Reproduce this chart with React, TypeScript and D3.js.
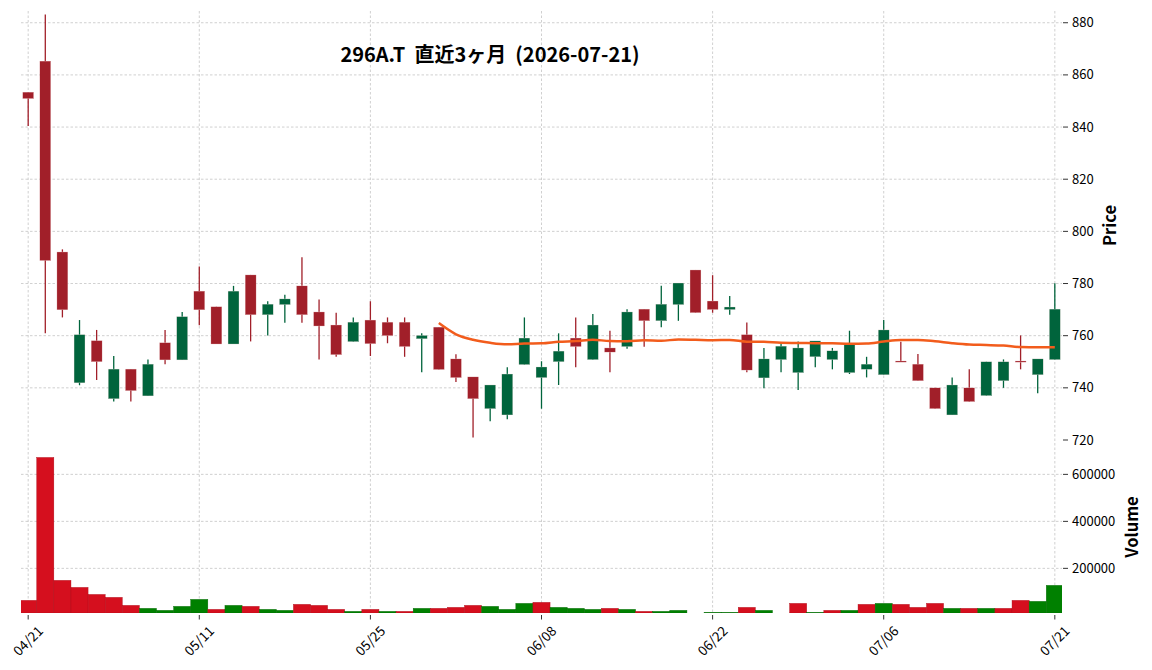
import * as d3 from "d3";

const dates = [
  "04/21", "04/22", "04/23", "04/24", "04/27", "04/28", "04/30", "05/01", "05/07", "05/08",
  "05/11", "05/12", "05/13", "05/14", "05/15", "05/18", "05/19", "05/20", "05/21", "05/22",
  "05/25", "05/26", "05/27", "05/28", "05/29", "06/01", "06/02", "06/03", "06/04", "06/05",
  "06/08", "06/09", "06/10", "06/11", "06/12", "06/15", "06/16", "06/17", "06/18", "06/19",
  "06/22", "06/23", "06/24", "06/25", "06/26", "06/29", "06/30", "07/01", "07/02", "07/03",
  "07/06", "07/07", "07/08", "07/09", "07/10", "07/13", "07/14", "07/15", "07/16", "07/17",
  "07/21",
];

const opens = [
  853.4, 865.3, 792.1, 741.9, 758.1, 735.8, 747.2, 736.9, 757.3, 750.7,
  777.1, 771.1, 756.8, 783.3, 768.0, 771.9, 779.1, 769.1, 764.1, 757.7,
  766.0, 765.2, 765.2, 758.8, 763.3, 751.1, 744.2, 732.0, 729.6, 748.9,
  743.9, 750.0, 759.1, 750.8, 755.3, 755.8, 770.2, 765.7, 771.9, 785.2,
  773.3, 770.0, 760.4, 743.8, 750.8, 745.8, 751.9, 750.8, 745.8, 747.1,
  745.0, 750.3, 749.1, 740.0, 729.6, 740.0, 737.0, 742.7, 750.3, 745.0,
  750.8,
];
const highs = [
  853.4, 883.2, 793.1, 766.0, 762.2, 752.2, 747.2, 750.9, 762.2, 769.1,
  786.5, 771.1, 779.1, 783.3, 773.2, 775.7, 790.1, 773.9, 768.8, 767.0,
  773.2, 767.0, 767.0, 760.9, 763.3, 752.9, 744.2, 741.1, 747.9, 767.0,
  750.2, 760.9, 767.0, 768.3, 761.9, 770.1, 770.2, 779.1, 780.2, 785.2,
  783.2, 775.2, 765.1, 755.3, 757.5, 757.8, 758.0, 755.3, 761.9, 751.9,
  766.0, 757.7, 753.0, 740.0, 744.0, 747.1, 750.0, 750.9, 760.1, 751.1,
  780.1,
];
const lows = [
  840.4, 760.9, 767.0, 741.0, 743.0, 734.8, 734.8, 736.9, 749.0, 750.7,
  764.0, 756.8, 756.8, 757.8, 760.1, 765.0, 765.0, 750.9, 751.9, 757.7,
  752.2, 757.1, 751.9, 746.0, 747.0, 742.2, 721.0, 727.2, 728.0, 748.9,
  732.0, 741.1, 747.9, 750.8, 746.0, 755.0, 755.8, 763.2, 765.7, 768.8,
  768.8, 768.0, 746.0, 739.8, 746.0, 739.2, 747.9, 747.1, 745.3, 744.0,
  745.0, 750.0, 742.7, 732.0, 729.6, 734.7, 737.0, 740.0, 747.1, 737.9,
  750.8,
];
const closes = [
  850.9, 788.8, 769.9, 760.4, 750.0, 747.2, 738.9, 749.1, 750.7, 767.3,
  769.9, 756.8, 777.1, 768.0, 772.1, 774.1, 768.0, 763.7, 752.7, 765.2,
  756.9, 760.0, 755.8, 760.1, 747.0, 743.9, 735.8, 741.1, 745.3, 759.1,
  748.0, 754.1, 755.8, 764.1, 753.7, 769.1, 765.7, 772.1, 780.2, 768.8,
  770.0, 771.0, 746.8, 751.1, 756.0, 755.3, 758.0, 754.2, 756.9, 749.1,
  762.2, 750.0, 742.7, 732.0, 741.1, 734.7, 750.0, 750.0, 750.0, 751.1,
  770.2,
];
const volumes = [
  63800, 672000, 149000, 119000, 89000, 76600, 42500, 29800, 21300, 38300,
  68000, 25500, 42500, 38300, 25500, 21300, 46800, 42500, 25500, 17000,
  25500, 17000, 17000, 29800, 29800, 34000, 42500, 38300, 25500, 51000,
  55300, 34000, 29800, 25500, 29800, 25500, 17000, 17000, 21300, 8000,
  12800, 12800, 34000, 21300, 8000, 51000, 12800, 21300, 21300, 46800,
  51000, 46800, 34000, 51000, 29800, 29800, 29800, 29800, 63800, 59600,
  127700,
];

const priceTicks = [720, 740, 760, 780, 800, 820, 840, 860, 880];
const volumeTicks = [200000, 400000, 600000];
const tickEvery = 10;
const maWindow = 25;
const title = "296A.T  直近3ヶ月  (2026-07-21)";

const FONT = "'Noto Sans CJK JP', 'Noto Sans', sans-serif";
const UP = "#00643c";
const DOWN = "#a11f29";
const VUP = "#008000";
const VDOWN = "#d50f1e";

export default function App() {
  const left = 21;
  const right = 1062;
  const x = d3.scaleLinear().domain([-0.42, dates.length - 1 + 0.42]).range([left, right]);
  const step = x(1) - x(0);
  const yP = d3.scaleLinear().domain([720, 884.5]).range([440, 11]);
  const yV = d3.scaleLinear().domain([10000, 742000]).range([613, 441]);

  const ma = closes.map((_, i) =>
    i < maWindow - 1 ? null : d3.mean(closes.slice(i - maWindow + 1, i + 1)) as number
  );
  const maLine = d3
    .line<number | null>()
    .defined((d) => d != null)
    .x((_, i) => x(i))
    .y((d) => yP(d as number))
    .curve(d3.curveMonotoneX)(ma);

  const tickIdx = d3.range(0, dates.length, tickEvery);
  const grid = { stroke: "#c4c4c4", strokeWidth: 0.8, strokeDasharray: "2.5,2" };

  return (
    <svg
      width={1152}
      height={670}
      style={{ position: "absolute", left: 0, top: 0, background: "#fff" }}
      fontFamily={FONT}
    >
      <defs>
        <clipPath id="vclip">
          <rect x={left} y={441} width={right - left} height={172} />
        </clipPath>
      </defs>

      {/* grid */}
      {tickIdx.map((i) => (
        <line key={"vg" + i} x1={x(i)} x2={x(i)} y1={11} y2={613} {...grid} />
      ))}
      {priceTicks
        .filter((t) => t > 720)
        .map((t) => (
          <line key={"pg" + t} x1={left} x2={right} y1={yP(t)} y2={yP(t)} {...grid} />
        ))}
      {volumeTicks.map((t) => (
        <line key={"vgh" + t} x1={left} x2={right} y1={yV(t)} y2={yV(t)} {...grid} />
      ))}

      {/* volume */}
      <g clipPath="url(#vclip)">
        {volumes.map((v, i) => {
          const up = i === 0 ? closes[0] > opens[0] : closes[i] > closes[i - 1];
          const top = yV(v);
          const h = Math.max(0, yV.range()[0] - top);
          const c = up ? VUP : VDOWN;
          return (
            <rect
              key={"v" + i}
              x={x(i) - step / 2}
              y={top}
              width={step}
              height={h}
              fill={c}
              stroke={d3.color(c)!.darker(0.6).toString()}
              strokeWidth={0.4}
            />
          );
        })}
      </g>

      {/* candles */}
      {closes.map((c, i) => {
        const o = opens[i];
        const col = c > o ? UP : DOWN;
        const bw = step * 0.64;
        const yt = yP(Math.max(o, c));
        const yb = yP(Math.min(o, c));
        return (
          <g key={"c" + i}>
            <line x1={x(i)} x2={x(i)} y1={yP(highs[i])} y2={yP(lows[i])} stroke={col} strokeWidth={1.3} />
            <rect
              x={x(i) - bw / 2}
              y={yt}
              width={bw}
              height={Math.max(1.2, yb - yt)}
              fill={col}
              stroke="#f3dede"
              strokeWidth={0.3}
            />
          </g>
        );
      })}

      {/* moving average */}
      <path d={maLine ?? ""} fill="none" stroke="#f25c1c" strokeWidth={2.5} />

      {/* price axis */}
      {priceTicks.map((t) => (
        <g key={"pt" + t} transform={`translate(0,${yP(t)})`}>
          <line x1={1063} x2={1068} stroke="#333" strokeWidth={1} />
          <text x={1072} dy="0.35em" fontSize={13} fill="#000">
            {t}
          </text>
        </g>
      ))}
      <text
        transform={`translate(1116,${(11 + 440) / 2}) rotate(-90)`}
        textAnchor="middle"
        fontSize={16.5}
        fontWeight="bold"
      >
        Price
      </text>

      {/* volume axis */}
      {volumeTicks.map((t) => (
        <g key={"vt" + t} transform={`translate(0,${yV(t)})`}>
          <line x1={1063} x2={1068} stroke="#333" strokeWidth={1} />
          <text x={1072} dy="0.35em" fontSize={13} fill="#000">
            {t}
          </text>
        </g>
      ))}
      <text
        transform={`translate(1138,${(441 + 613) / 2}) rotate(-90)`}
        textAnchor="middle"
        fontSize={16.5}
        fontWeight="bold"
      >
        Volume
      </text>

      {/* x axis */}
      {tickIdx.map((i) => (
        <g key={"xt" + i}>
          <line x1={x(i)} x2={x(i)} y1={615} y2={619.5} stroke="#333" strokeWidth={1} />
          <text
            transform={`translate(${x(i)},641) rotate(-45)`}
            textAnchor="middle"
            dy="0.35em"
            fontSize={13.5}
          >
            {dates[i]}
          </text>
        </g>
      ))}

      {/* title */}
      <text
        x={490}
        y={62}
        textAnchor="middle"
        fontSize={20}
        fontWeight="bold"
        style={{ whiteSpace: "pre" }}
      >
        {title}
      </text>
    </svg>
  );
}
